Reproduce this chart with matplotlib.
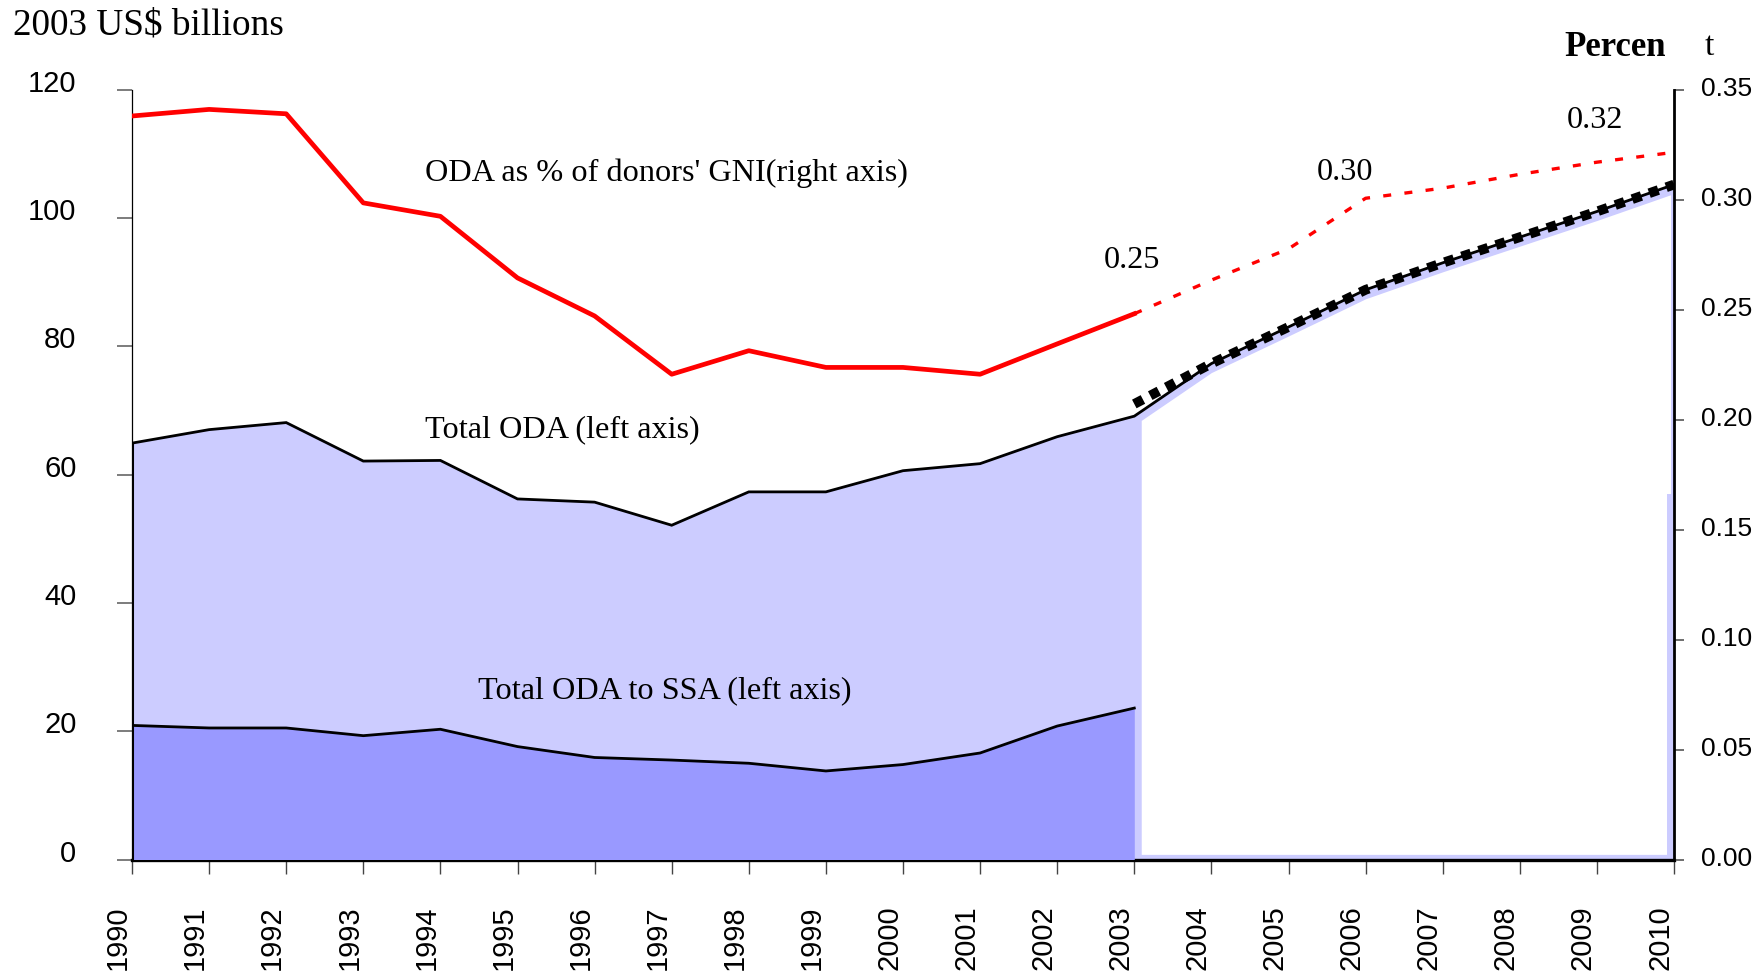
import numpy as np
import matplotlib
matplotlib.use("Agg")
import matplotlib.pyplot as plt
from matplotlib.transforms import ScaledTranslation

# ---------------- data ----------------
years_all = list(range(1990, 2011))
year_labels = [str(y) for y in years_all]

hist_years = list(range(1990, 2004))
total_oda_hist = [64.9, 67.0, 68.1, 62.1, 62.2, 56.2, 55.7, 52.1, 57.3, 57.3, 60.6, 61.7, 65.9, 69.1]
ssa_hist = [20.9, 20.5, 20.5, 19.3, 20.3, 17.6, 15.9, 15.5, 15.0, 13.8, 14.8, 16.6, 20.8, 23.6]
oda_gni_hist = [0.338, 0.341, 0.339, 0.2985, 0.2924, 0.2644, 0.2471, 0.2206, 0.2313,
                0.2237, 0.2237, 0.2206, 0.2344, 0.2481]

proj_years = list(range(2003, 2011))
total_oda_proj = [71.0, 77.3, 83.0, 88.8, 93.0, 97.0, 101.0, 105.2]
oda_gni_proj = [0.2481, 0.2634, 0.2776, 0.3006, 0.3052, 0.3115, 0.3170, 0.3215]

left_ticks = [0, 20, 40, 60, 80, 100, 120]
right_ticks = [0.00, 0.05, 0.10, 0.15, 0.20, 0.25, 0.30, 0.35]
right_tick_labels = ["0.00", "0.05", "0.10", "0.15", "0.20", "0.25", "0.30", "0.35"]

# ---------------- figure ----------------
W, H = 1757, 974
DPI = 100
fig = plt.figure(figsize=(W / DPI, H / DPI), dpi=DPI)
fig.patch.set_facecolor("white")

ax_l, ax_r, ax_t, ax_b = 132, 1674, 89.6, 859.5
ax = fig.add_axes([ax_l / W, 1 - ax_b / H, (ax_r - ax_l) / W, (ax_b - ax_t) / H])
ax2 = ax.twinx()

SERIF = ["Liberation Serif", "DejaVu Serif"]
SANS = ["Liberation Sans", "DejaVu Sans"]

LIGHT = "#CCCCFF"
DARK = "#9999FF"

# total ODA area (historical + projection)
area_x = np.array(hist_years + proj_years[1:], dtype=float)
area_y = np.array(total_oda_hist + total_oda_proj[1:], dtype=float)
ax.fill_between(area_x, 0, area_y, color=LIGHT, lw=0, zorder=1)

# white overlay over the projection area (as in the original chart)
x0, x1 = proj_years[0] + 0.09, proj_years[-1] - 0.045
wx = np.concatenate([[x0], np.array(proj_years[1:-1], float), [x1]])
wy = np.interp(wx, area_x, area_y) - 1.4
ax.fill_between(wx, 0.8, wy, color="white", lw=0, zorder=2)
# light band left visible along the right edge (lower part)
ax.fill_between([proj_years[-1] - 0.09, proj_years[-1]], 0, 57.0, color=LIGHT, lw=0, zorder=2.5)

# SSA area
ax.fill_between(hist_years, 0, ssa_hist, color=DARK, lw=0, zorder=3)

# outline lines
ax.plot(area_x, area_y, color="black", lw=2.0, zorder=4, solid_joinstyle="miter")
ax.plot(hist_years, ssa_hist, color="black", lw=2.0, zorder=4)
ax.vlines(hist_years[0], 0, total_oda_hist[0], color="black", lw=2.2, zorder=4)

# projection dotted
ax.plot(proj_years, total_oda_proj, color="black", lw=7.0,
        linestyle=(0, (1.0, 0.85)), dash_capstyle="butt", zorder=5)

ax.set_xlim(years_all[0], years_all[-1])
ax.set_ylim(0, 120)
ax.set_xticks(years_all)
ax.set_xticklabels(year_labels, rotation=90, fontsize=21, family=SANS, va="top")
ax.set_yticks(left_ticks)
ax.set_yticklabels([str(v) for v in left_ticks], fontsize=21, family=SANS)

# right axis
ax2.plot(hist_years, oda_gni_hist, color="#FF0000", lw=3.4, zorder=6)
ax2.plot(proj_years, oda_gni_proj, color="#FF0000", lw=2.4,
         linestyle=(0, (2.4, 4.0)), zorder=6)
ax2.set_ylim(0, 0.35)
ax2.set_yticks(right_ticks)
ax2.set_yticklabels(right_tick_labels, fontsize=19, family=SANS)

# spines / ticks
for a in (ax, ax2):
    a.spines["top"].set_visible(False)
ax.spines["left"].set_linewidth(0.9)
ax.spines["right"].set_visible(False)
ax2.spines["left"].set_visible(False)
ax.spines["bottom"].set_linewidth(2.4)
ax2.spines["bottom"].set_visible(False)
ax2.spines["right"].set_linewidth(2.0)
ax.tick_params(axis="x", direction="out", length=10, width=1.0, color="#444444", pad=23)
ax.tick_params(axis="y", direction="out", length=11, width=1.2, color="#666666", pad=29)
ax2.tick_params(axis="y", direction="out", length=7.5, width=1.2, color="#555555", pad=12)
ax.set_zorder(1)
ax2.set_zorder(2)
ax2.patch.set_visible(False)

for t in ax.yaxis.get_major_ticks():
    t.label1.set_transform(t.label1.get_transform() + ScaledTranslation(0, 9 / DPI, fig.dpi_scale_trans))
for t in ax2.yaxis.get_major_ticks():
    t.label2.set_transform(t.label2.get_transform() + ScaledTranslation(0, 3 / DPI, fig.dpi_scale_trans))
for t in ax.xaxis.get_major_ticks():
    t.label1.set_transform(t.label1.get_transform() + ScaledTranslation(-14 / DPI, 0, fig.dpi_scale_trans))


def ftext(x, y, s, **kw):
    fig.text(x / W, 1 - y / H, s, **kw)


ftext(13, 25, "2003 US$ billions", fontsize=26.8, family=SERIF, ha="left", va="center")
ftext(1615, 47, "Percen", fontsize=25, family=SERIF, weight="bold", ha="center", va="center")
ftext(1709, 47, "t", fontsize=24, family=SERIF, ha="center", va="center")

ftext(425, 173, "ODA as % of donors' GNI(right axis)", fontsize=23.2, family=SERIF, ha="left", va="center")
ftext(425, 430, "Total ODA (left axis)", fontsize=23.2, family=SERIF, ha="left", va="center")
ftext(478, 691, "Total ODA to SSA (left axis)", fontsize=23.2, family=SERIF, ha="left", va="center")
ftext(1132, 261, "0.25", fontsize=23.2, family=SERIF, ha="center", va="center")
ftext(1345, 173, "0.30", fontsize=23.2, family=SERIF, ha="center", va="center")
ftext(1595, 120, "0.32", fontsize=23.2, family=SERIF, ha="center", va="center")

fig.savefig("out.png", dpi=DPI)
